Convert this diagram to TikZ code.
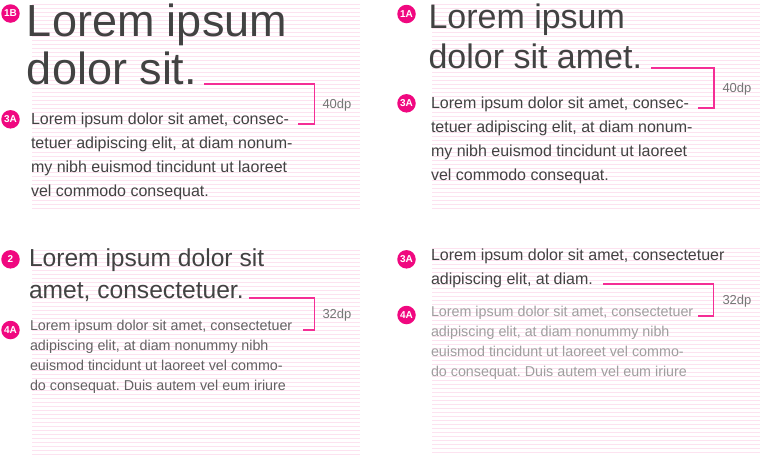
\documentclass[tikz,border=0pt]{standalone}
\usepackage{fontspec}
\setmainfont{Liberation Sans}
\definecolor{gridc}{RGB}{253,226,240}
\definecolor{badgec}{RGB}{240,8,128}
\definecolor{brk}{RGB}{245,45,150}
\definecolor{darktx}{RGB}{66,66,66}
\definecolor{midtx}{RGB}{97,97,97}
\definecolor{lighttx}{RGB}{158,158,158}
\definecolor{lbltx}{RGB}{117,117,117}
\begin{document}
\frenchspacing
\begin{tikzpicture}[x=1pt,y=-1pt,
  txt/.style={anchor=base west, inner sep=0pt, outer sep=0pt},
  hA/.style={txt, font=\fontsize{45}{48}\selectfont, text=darktx},
  hB/.style={txt, font=\fontsize{34}{40}\selectfont, text=darktx},
  hC/.style={txt, font=\fontsize{24.6}{32}\selectfont, text=darktx},
  sub/.style={txt, font=\fontsize{16}{24}\selectfont, text=darktx},
  bodym/.style={txt, font=\fontsize{14.3}{20}\selectfont, text=midtx},
  bodyl/.style={txt, font=\fontsize{14.3}{20}\selectfont, text=lighttx},
  badge/.style={circle, fill=badgec, minimum size=18.5pt, inner sep=0pt, text=white, font=\fontsize{10}{10}\selectfont\bfseries},
  gridline/.style={draw=gridc, line width=1pt},
  bracket/.style={draw=brk, line width=1.3pt},
  dplabel/.style={txt, font=\fontsize{13}{13}\selectfont, text=lbltx}]
\useasboundingbox (0,0) rectangle (760,456);
% baseline grids (offset half a pixel so each rule covers one pixel row)
\foreach \y in {4,8,...,208} \draw[gridline] (32,\y+0.5) -- (360,\y+0.5);
\foreach \y in {4,8,...,208} \draw[gridline] (432,\y+0.5) -- (760,\y+0.5);
\foreach \y in {250,254,...,454} \draw[gridline] (32,\y+0.5) -- (360,\y+0.5);
\foreach \y in {248,252,...,452} \draw[gridline] (432,\y+0.5) -- (760,\y+0.5);

% ---------- top left ----------
\node[badge] (bdgTLa) at (10.5,13.5) {1B};
\node[badge] (bdgTLb) at (10.5,119.3) {3A};
\node[hA] (tlh1) at (27,36) {Lorem ipsum};
\node[hA] (tlh2) at (27,84) {dolor sit.};
\node[sub] (tlb1) at (31,124) {Lorem ipsum dolor sit amet, consec-};
\node[sub] (tlb2) at (31,148) {tetuer adipiscing elit, at diam nonum-};
\node[sub] (tlb3) at (31,172) {my nibh euismod tincidunt ut laoreet};
\node[sub] (tlb4) at (31,196) {vel commodo consequat.};
\coordinate (tlk1) at (204,84);
\coordinate (tlk2) at (314.5,84);
\coordinate (tlk3) at (314.5,124);
\coordinate (tlk4) at (298,124);
\draw[bracket] (tlk1) -- (tlk2) -- (tlk3) -- (tlk4);
\node[dplabel] (tldp) at (322.5,108.5) {40dp};

% ---------- top right ----------
\node[badge] (bdgTRa) at (406.5,14) {1A};
\node[badge] (bdgTRb) at (406.5,103.3) {3A};
\node[hB] (trh1) at (428.5,28) {Lorem ipsum};
\node[hB] (trh2) at (428.5,68) {dolor sit amet.};
\node[sub] (trb1) at (431,108) {Lorem ipsum dolor sit amet, consec-};
\node[sub] (trb2) at (431,132) {tetuer adipiscing elit, at diam nonum-};
\node[sub] (trb3) at (431,156) {my nibh euismod tincidunt ut laoreet};
\node[sub] (trb4) at (431,180) {vel commodo consequat.};
\coordinate (trk1) at (651,68);
\coordinate (trk2) at (714,68);
\coordinate (trk3) at (714,108);
\coordinate (trk4) at (698,108);
\draw[bracket] (trk1) -- (trk2) -- (trk3) -- (trk4);
\node[dplabel] (trdp) at (722.5,92.5) {40dp};

% ---------- bottom left ----------
\node[badge] (bdgBLa) at (10.5,259.3) {2};
\node[badge] (bdgBLb) at (10.5,330) {4A};
\node[hC] (blh1) at (29,266) {Lorem ipsum dolor sit};
\node[hC] (blh2) at (29,298) {amet, consectetuer.};
\node[bodym] (blb1) at (30,330) {Lorem ipsum dolor sit amet, consectetuer};
\node[bodym] (blb2) at (30,350) {adipiscing elit, at diam nonummy nibh};
\node[bodym] (blb3) at (30,370) {euismod tincidunt ut laoreet vel commo-};
\node[bodym] (blb4) at (30,390) {do consequat. Duis autem vel eum iriure};
\coordinate (blk1) at (248.5,298);
\coordinate (blk2) at (314.5,298);
\coordinate (blk3) at (314.5,330);
\coordinate (blk4) at (302.5,330);
\draw[bracket] (blk1) -- (blk2) -- (blk3) -- (blk4);
\node[dplabel] (bldp) at (322.5,318.5) {32dp};

% ---------- bottom right ----------
\node[badge] (bdgBRa) at (406.5,259.3) {3A};
\node[badge] (bdgBRb) at (406.5,315) {4A};
\node[sub] (brh1) at (431,260) {Lorem ipsum dolor sit amet, consectetuer};
\node[sub] (brh2) at (431,284) {adipiscing elit, at diam.};
\node[bodyl] (brb1) at (431,316) {Lorem ipsum dolor sit amet, consectetuer};
\node[bodyl] (brb2) at (431,336) {adipiscing elit, at diam nonummy nibh};
\node[bodyl] (brb3) at (431,356) {euismod tincidunt ut laoreet vel commo-};
\node[bodyl] (brb4) at (431,376) {do consequat. Duis autem vel eum iriure};
\coordinate (brk1) at (603,284);
\coordinate (brk2) at (713.5,284);
\coordinate (brk3) at (713.5,316);
\coordinate (brk4) at (698,316);
\draw[bracket] (brk1) -- (brk2) -- (brk3) -- (brk4);
\node[dplabel] (brdp) at (722.5,304.5) {32dp};
\end{tikzpicture}
\end{document}
